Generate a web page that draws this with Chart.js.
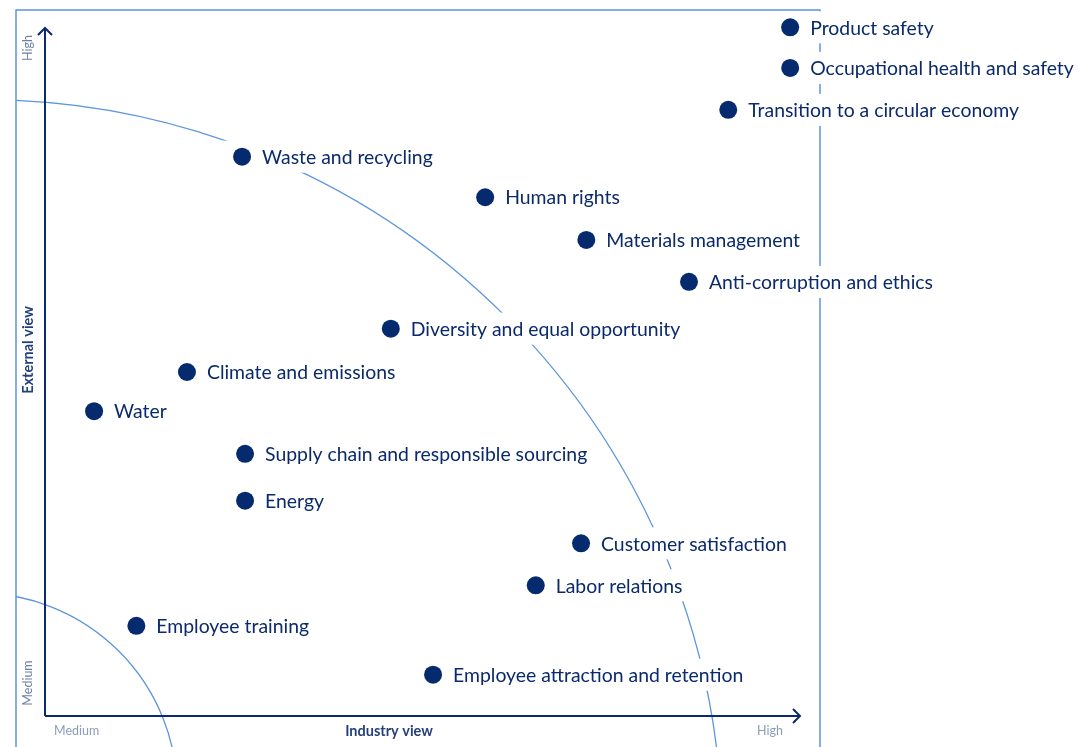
<!DOCTYPE html>
<html><head><meta charset="utf-8">
<script src="https://cdn.jsdelivr.net/npm/chart.js@4"></script>
<style>html,body{margin:0;padding:0;background:#fff;}canvas{display:block;}</style>
</head><body>
<canvas id="c" width="1079" height="747"></canvas>
<script>
const topics = ["Product safety","Occupational health and safety","Transition to a circular economy","Waste and recycling","Human rights","Materials management","Anti-corruption and ethics","Diversity and equal opportunity","Climate and emissions","Water","Supply chain and responsible sourcing","Energy","Customer satisfaction","Labor relations","Employee training","Employee attraction and retention"];
const industryView = [98.7, 98.7, 90.5, 26.1, 58.3, 71.7, 85.3, 45.8, 18.8, 6.5, 26.5, 26.5, 71.0, 65.0, 12.1, 51.4];
const externalView = [100.1, 94.2, 88.1, 81.3, 75.4, 69.2, 63.1, 56.3, 50.0, 44.3, 38.1, 31.3, 25.1, 19.0, 13.1, 6.0];
const axisTitles = {x: "Industry view", y: "External view"};
const axisEnds = {low: "Medium", high: "High"};
// threshold arcs (data units): center and radii
const arcInner = {cx: -8.9, cy: -11.0, rx: 26.4, ry: 28.9};
const arcOuter = {cx: -8.3, cy: -18.0, rx: 98.0, ry: 107.6};

const NAVY = "#0b2a6b";
const DOT = "#052a6e";
const LIGHT = "#5d95dc";
const GREY = "#8d9cb8";

const points = topics.map((t, i) => ({x: industryView[i], y: externalView[i], label: t}));

const decor = {
  id: "decor",
  beforeDatasetsDraw(chart) {
    const ctx = chart.ctx, xs = chart.scales.x, ys = chart.scales.y, a = chart.chartArea;
    const W = chart.width, H = chart.height;
    const boxL = a.left - 29, boxT = a.top - 18, boxR = a.right + 20;
    ctx.save();
    // arcs
    ctx.save();
    ctx.beginPath(); ctx.rect(boxL, boxT, boxR - boxL, H); ctx.clip();
    ctx.strokeStyle = LIGHT; ctx.lineWidth = 1.3;
    [arcInner, arcOuter].forEach(c => {
      const cx = xs.getPixelForValue(c.cx), cy = ys.getPixelForValue(c.cy);
      const rx = xs.getPixelForValue(c.cx + c.rx) - cx, ry = cy - ys.getPixelForValue(c.cy + c.ry);
      ctx.beginPath(); ctx.ellipse(cx, cy, rx, ry, 0, -Math.PI / 2, 0); ctx.stroke();
    });
    ctx.restore();
    // box
    ctx.strokeStyle = LIGHT; ctx.lineWidth = 1.5;
    ctx.beginPath();
    ctx.moveTo(boxL, H); ctx.lineTo(boxL, boxT); ctx.lineTo(boxR, boxT); ctx.lineTo(boxR, H);
    ctx.stroke();
    // axes
    ctx.strokeStyle = NAVY; ctx.lineWidth = 2; ctx.lineJoin = "miter";
    ctx.beginPath(); ctx.moveTo(a.left, a.bottom); ctx.lineTo(a.left, a.top); ctx.stroke();
    ctx.beginPath(); ctx.moveTo(a.left - 7, a.top + 7); ctx.lineTo(a.left, a.top); ctx.lineTo(a.left + 7, a.top + 7); ctx.stroke();
    ctx.beginPath(); ctx.moveTo(a.left, a.bottom); ctx.lineTo(a.right, a.bottom); ctx.stroke();
    ctx.beginPath(); ctx.moveTo(a.right - 7, a.bottom - 7); ctx.lineTo(a.right, a.bottom); ctx.lineTo(a.right - 7, a.bottom + 7); ctx.stroke();
    // axis texts
    ctx.textBaseline = "middle";
    ctx.font = "12.5px Lato"; ctx.fillStyle = GREY;
    ctx.textAlign = "left"; ctx.fillText(axisEnds.low, a.left + 9, a.bottom + 15);
    ctx.textAlign = "right"; ctx.fillText(axisEnds.high, a.right - 17, a.bottom + 15);
    ctx.font = "bold 14.5px Lato"; ctx.fillStyle = "#26407a"; ctx.textAlign = "center";
    ctx.fillText(axisTitles.x, 389, a.bottom + 15);
    ctx.save();
    ctx.translate(a.left - 17, 0); ctx.rotate(-Math.PI / 2);
    ctx.font = "12.5px Lato"; ctx.fillStyle = "#6f80a6";
    ctx.textAlign = "center"; ctx.fillText(axisEnds.high, -48, 0);
    ctx.fillText(axisEnds.low, -683, 0);
    ctx.font = "bold 14.5px Lato"; ctx.fillStyle = "#26407a"; ctx.textAlign = "center";
    ctx.fillText(axisTitles.y, -350, 0);
    ctx.restore();
    // labels
    ctx.font = "19.4px Lato"; ctx.textAlign = "left";
    points.forEach(p => {
      const px = xs.getPixelForValue(p.x), py = ys.getPixelForValue(p.y);
      const w = ctx.measureText(p.label).width;
      ctx.fillStyle = "#fff";
      ctx.fillRect(px - 24, py - 16, w + 24 + 24, 32);
      ctx.fillStyle = NAVY;
      ctx.fillText(p.label, px + 20, py + 1);
    });
    ctx.restore();
  }
};

new Chart(document.getElementById("c"), {
  type: "scatter",
  data: {datasets: [{data: points, backgroundColor: DOT, borderColor: DOT, pointRadius: 9, pointHoverRadius: 9, borderWidth: 0}]},
  options: {
    responsive: false, animation: false, devicePixelRatio: 1,
    layout: {padding: {left: 45, right: 279, top: 28, bottom: 31}},
    clip: false,
    scales: {
      x: {type: "linear", min: 0, max: 100, display: false},
      y: {type: "linear", min: 0, max: 100, display: false}
    },
    plugins: {legend: {display: false}, tooltip: {enabled: false}}
  },
  plugins: [decor]
});
</script>
</body></html>
